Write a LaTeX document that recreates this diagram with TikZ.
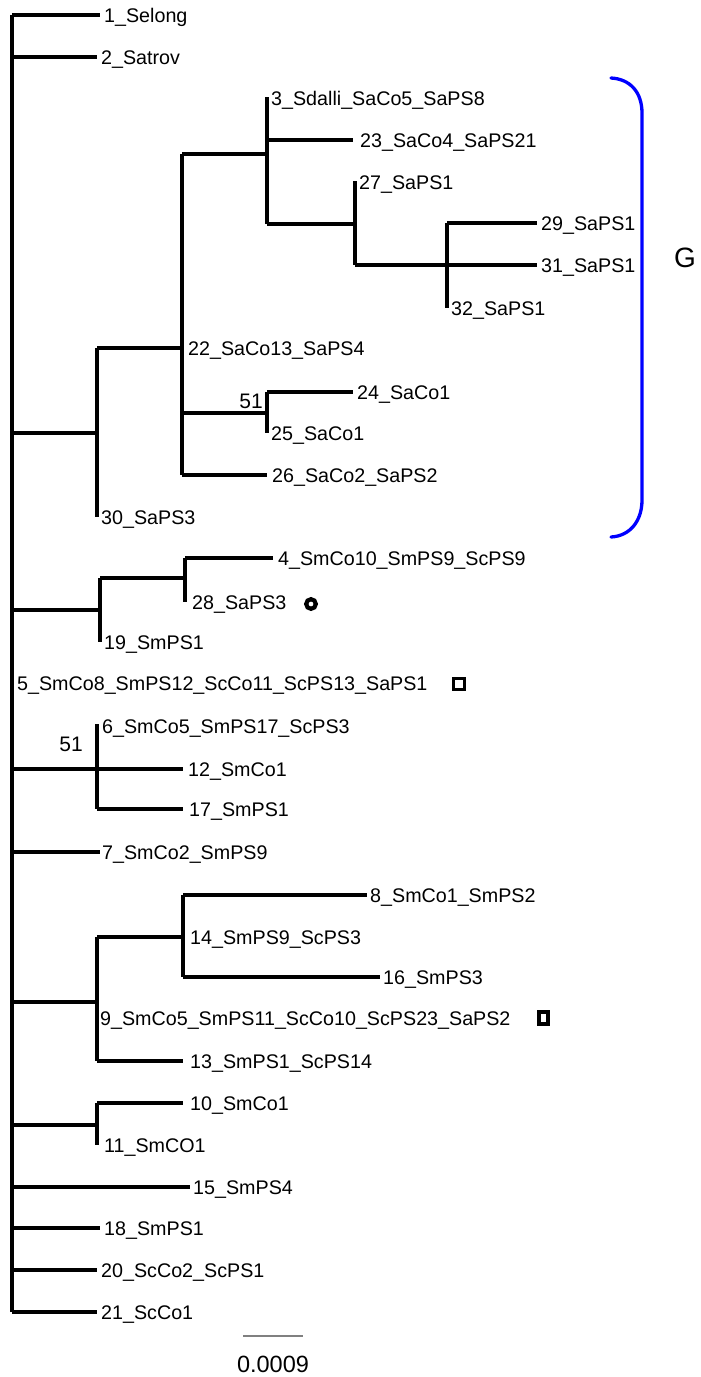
\documentclass[tikz,border=0pt]{standalone}
\usepackage{fontspec}
\setmainfont{Liberation Sans}
\begin{document}
\begin{tikzpicture}[x=1pt,y=-1pt,
  br/.style={line width=3.3pt, line cap=butt},
  lab/.style={anchor=base west, inner sep=0pt, font=\fontsize{19.7}{20}\selectfont},
  boot/.style={anchor=base east, inner sep=0pt, font=\fontsize{21}{22}\selectfont},
  mk/.style={line width=3.6pt}]
\useasboundingbox (0,0) rectangle (701,1377);
% root
\coordinate (R1) at (12,15);
\coordinate (R2) at (12,1312);
\draw[br] (R1) -- (R2);
% --- 1, 2
\coordinate (t1) at (100,15);
\coordinate (t2) at (97,57);
\draw[br] (12,15) coordinate (r1) -- (t1);
\draw[br] (12,57) coordinate (r2) -- (t2);
\node[lab] (l1) at (104,22) {1\_Selong};
\node[lab] (l2) at (101,64) {2\_Satrov};
% --- clade A
\coordinate (rA) at (12,433);
\coordinate (A) at (97,433);
\draw[br] (rA) -- (A);
\draw[br] (97,348) -- (97,517);
\coordinate (B) at (182,348);
\draw[br] (97,348) -- (B);
\draw[br] (182,154) -- (182,475);
\node[lab] (l22) at (188,355) {22\_SaCo13\_SaPS4};
% C
\coordinate (C) at (267,154);
\draw[br] (182,154) -- (C);
\draw[br] (267,97) -- (267,224);
\node[lab] (l3) at (271,105) {3\_Sdalli\_SaCo5\_SaPS8};
\coordinate (t23) at (353,140);
\draw[br] (267,140) -- (t23);
\node[lab] (l23) at (360,147) {23\_SaCo4\_SaPS21};
% D
\coordinate (D) at (355,224);
\draw[br] (267,224) -- (D);
\draw[br] (355,181) -- (355,265);
\node[lab] (l27) at (359,189) {27\_SaPS1};
% E
\coordinate (E) at (447,265);
\draw[br] (355,265) -- (E);
\draw[br] (447,223) -- (447,308);
\coordinate (t29) at (537,223);
\coordinate (t31) at (537,265);
\draw[br] (447,223) -- (t29);
\draw[br] (E) -- (t31);
\node[lab] (l29) at (541,230) {29\_SaPS1};
\node[lab] (l31) at (541,272) {31\_SaPS1};
\node[lab] (l32) at (451,315) {32\_SaPS1};
% F
\coordinate (F) at (267,413);
\draw[br] (182,413) -- (F);
\draw[br] (267,392) -- (267,433);
\coordinate (t24) at (353,392);
\draw[br] (267,392) -- (t24);
\node[lab] (l24) at (357,399) {24\_SaCo1};
\node[lab] (l25) at (271,440) {25\_SaCo1};
\node[boot] (b1) at (263,408) {51};
\coordinate (t26) at (267,475);
\draw[br] (182,475) -- (t26);
\node[lab] (l26) at (272,482) {26\_SaCo2\_SaPS2};
\node[lab] (l30) at (101,524) {30\_SaPS3};
% --- clade with 4, 28, 19
\coordinate (rG) at (12,610);
\coordinate (Gn) at (100,610);
\draw[br] (rG) -- (Gn);
\draw[br] (100,578) -- (100,642);
\coordinate (H) at (185,578);
\draw[br] (100,578) -- (H);
\draw[br] (185,558) -- (185,602);
\coordinate (t4) at (273,558);
\draw[br] (185,558) -- (t4);
\node[lab] (l4) at (278,565) {4\_SmCo10\_SmPS9\_ScPS9};
\node[lab] (l28) at (192,609) {28\_SaPS3};
\draw[line width=4.2pt] (311,604) circle (4.8);
\node[lab] (l19) at (104,649) {19\_SmPS1};
% --- 5
\node[lab] (l5) at (17,690) {5\_SmCo8\_SmPS12\_ScCo11\_ScPS13\_SaPS1};
\draw[mk] (453.5,678.5) rectangle (464.5,689.5);
% --- clade 6,12,17
\coordinate (r6) at (12,769);
\coordinate (N6) at (97,769);
\draw[br] (r6) -- (N6);
\draw[br] (97,724) -- (97,809);
\coordinate (t12) at (183,769);
\coordinate (t17) at (183,809);
\draw[br] (N6) -- (t12);
\draw[br] (97,809) -- (t17);
\node[lab] (l6) at (102,733) {6\_SmCo5\_SmPS17\_ScPS3};
\node[lab] (l12) at (188,776) {12\_SmCo1};
\node[lab] (l17) at (189,816) {17\_SmPS1};
\node[boot] (b2) at (83,751) {51};
% --- 7
\coordinate (t7) at (100,852);
\draw[br] (12,852) -- (t7);
\node[lab] (l7) at (102,859) {7\_SmCo2\_SmPS9};
% --- clade 9
\coordinate (r9) at (12,1002);
\coordinate (N9) at (97,1002);
\draw[br] (r9) -- (N9);
\draw[br] (97,937) -- (97,1061);
\coordinate (N14) at (183,937);
\draw[br] (97,937) -- (N14);
\draw[br] (183,895) -- (183,977);
\coordinate (t8) at (367,895);
\coordinate (t16) at (380,977);
\draw[br] (183,895) -- (t8);
\draw[br] (183,977) -- (t16);
\node[lab] (l8) at (370,902) {8\_SmCo1\_SmPS2};
\node[lab] (l14) at (190,944) {14\_SmPS9\_ScPS3};
\node[lab] (l16) at (383,984) {16\_SmPS3};
\node[lab] (l9) at (100,1025) {9\_SmCo5\_SmPS11\_ScCo10\_ScPS23\_SaPS2};
\draw[line width=4pt] (539,1012) rectangle (548,1024);
\coordinate (t13) at (183,1061);
\draw[br] (97,1061) -- (t13);
\node[lab] (l13) at (190,1068) {13\_SmPS1\_ScPS14};
% --- clade 10, 11
\coordinate (r10) at (12,1125);
\coordinate (N10) at (97,1125);
\draw[br] (r10) -- (N10);
\draw[br] (97,1103) -- (97,1145);
\coordinate (t10) at (183,1103);
\draw[br] (97,1103) -- (t10);
\node[lab] (l10) at (190,1110) {10\_SmCo1};
\node[lab] (l11) at (104,1152) {11\_SmCO1};
% --- 15, 18, 20, 21
\coordinate (t15) at (190,1187);
\draw[br] (12,1187) -- (t15);
\node[lab] (l15) at (193,1194) {15\_SmPS4};
\coordinate (t18) at (100,1228);
\draw[br] (12,1228) -- (t18);
\node[lab] (l18) at (104,1235) {18\_SmPS1};
\coordinate (t20) at (97,1270);
\draw[br] (12,1270) -- (t20);
\node[lab] (l20) at (101,1277) {20\_ScCo2\_ScPS1};
\coordinate (t21) at (97,1312);
\draw[br] (12,1312) -- (t21);
\node[lab] (l21) at (101,1319) {21\_ScCo1};
% --- scale bar
\coordinate (s1) at (243,1336);
\coordinate (s2) at (303,1336);
\draw[line width=1.6pt, gray] (s1) -- (s2);
\node[anchor=base, inner sep=0pt, font=\fontsize{23.5}{24}\selectfont] (sl) at (273,1372) {0.0009};
% --- bracket
\coordinate (k1) at (611,78);
\coordinate (k2) at (642,113);
\coordinate (k3) at (642,500);
\coordinate (k4) at (611,537);
\draw[blue, line width=3.3pt, line cap=round] (k1) .. controls (630,79) and (642,92) .. (k2) -- (k3) .. controls (642,521) and (630,536) .. (k4);
\node[font=\fontsize{28}{30}\selectfont, inner sep=0pt] (gl) at (685,258) {G};
\end{tikzpicture}
\end{document}
